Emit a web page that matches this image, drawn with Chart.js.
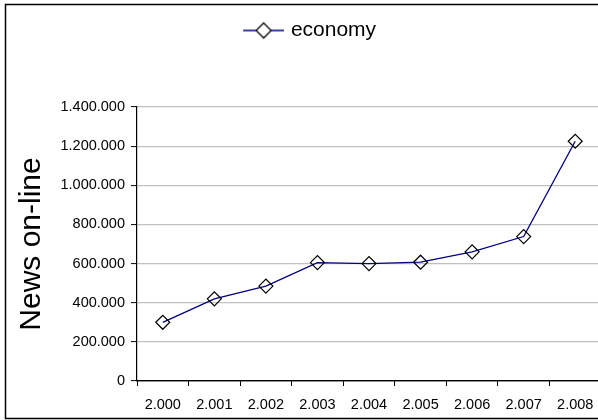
<!DOCTYPE html>
<html>
<head>
<meta charset="utf-8">
<script src="https://cdn.jsdelivr.net/npm/chart.js@4/dist/chart.umd.min.js"></script>
<style>
  html, body { margin: 0; padding: 0; background: #fff; overflow: hidden; width: 598px; height: 420px; }
  #wrap { position: absolute; left: 0; top: 0; width: 601px; height: 420px; }
</style>
</head>
<body>
<div id="wrap"><canvas id="c" width="601" height="420"></canvas></div>
<script>
const categories = ['2.000', '2.001', '2.002', '2.003', '2.004', '2.005', '2.006', '2.007', '2.008'];
const economyValues = [300000, 420000, 485000, 605000, 600000, 607000, 660000, 738000, 1225000];
const seriesName = 'economy';
const yAxisTitle = 'News on-line';
const yMin = 0, yMax = 1400000, yStep = 200000;

const FONT = "'Liberation Sans', Arial, sans-serif";

function fmt(v) {
  return String(Math.round(v)).replace(/\B(?=(\d{3})+(?!\d))/g, '.');
}

// legend icon: line with hollow diamond
const icon = document.createElement('canvas');
icon.width = 63; icon.height = 20;
(function () {
  const g = icon.getContext('2d');
  g.strokeStyle = '#000080';
  g.lineWidth = 1.5;
  g.beginPath(); g.moveTo(22, 10); g.lineTo(63, 10); g.stroke();
  const cx = 42.5, cy = 10, r = 7.5;
  g.beginPath();
  g.moveTo(cx, cy - r); g.lineTo(cx + r, cy); g.lineTo(cx, cy + r); g.lineTo(cx - r, cy); g.closePath();
  g.fillStyle = '#ffffff'; g.fill();
  g.strokeStyle = '#000000'; g.lineWidth = 1.3; g.stroke();
})();

const framePlugin = {
  id: 'frame',
  afterDraw(chart) {
    const ctx = chart.ctx;
    ctx.save();
    ctx.strokeStyle = '#000';
    ctx.lineWidth = 1.5;
    ctx.strokeRect(5.5, 4.5, 800, 414);
    ctx.restore();
  }
};

new Chart(document.getElementById('c'), {
  type: 'line',
  data: {
    labels: categories,
    datasets: [{
      label: seriesName,
      data: economyValues,
      borderColor: '#000080',
      borderWidth: 1.3,
      backgroundColor: 'transparent',
      pointStyle: 'rectRot',
      pointRadius: 7,
      pointHoverRadius: 7,
      pointBorderColor: '#000',
      pointBackgroundColor: 'transparent',
      pointBorderWidth: 1.2,
      tension: 0,
      fill: false
    }]
  },
  options: {
    responsive: false,
    animation: false,
    devicePixelRatio: 1,
    layout: { autoPadding: false, padding: { top: 10, left: 0, right: 0, bottom: 0 } },
    plugins: {
      tooltip: { enabled: false },
      legend: {
        display: true,
        position: 'top',
        align: 'center',
        labels: {
          usePointStyle: true,
          pointStyle: icon,
          pointStyleWidth: 55.5,
          padding: 10,
          color: '#000',
          font: { family: FONT, size: 21 }
        }
      },
      title: {
        display: true,
        text: ' ',
        weight: 500,
        position: 'top',
        font: { size: 10, lineHeight: 1 },
        padding: { top: 46, bottom: 0 }
      }
    },
    scales: {
      x: {
        type: 'category',
        offset: true,
        grid: {
          display: true,
          offset: true,
          drawOnChartArea: false,
          drawTicks: true,
          tickLength: 5,
          tickColor: '#000',
          tickWidth: 1
        },
        border: { display: true, color: '#000', width: 1.2 },
        ticks: {
          color: '#000',
          font: { family: FONT, size: 14.5 },
          padding: 10,
          maxRotation: 0,
          autoSkip: false
        },
        afterFit(scale) {
          scale.height = 39;
          scale.paddingLeft = 0;
          scale.paddingRight = 0;
        }
      },
      y: {
        min: yMin,
        max: yMax,
        grid: {
          color: (c) => (c.tick && c.tick.value === 0) ? '#000' : '#c0c0c0',
          lineWidth: 1.2,
          drawTicks: true,
          tickLength: 6,
          tickColor: '#000',
          tickWidth: 1
        },
        border: { display: true, color: '#000', width: 1.2 },
        ticks: {
          stepSize: yStep,
          color: '#000',
          font: { family: FONT, size: 14.5 },
          padding: 6,
          callback: (v) => fmt(v)
        },
        title: {
          display: true,
          text: yAxisTitle,
          color: '#000',
          font: { family: FONT, size: 30 },
          padding: { top: 13.5, bottom: 0 }
        },
        afterFit(scale) { scale.width = 137; }
      }
    }
  },
  plugins: [framePlugin]
});
</script>
</body>
</html>
